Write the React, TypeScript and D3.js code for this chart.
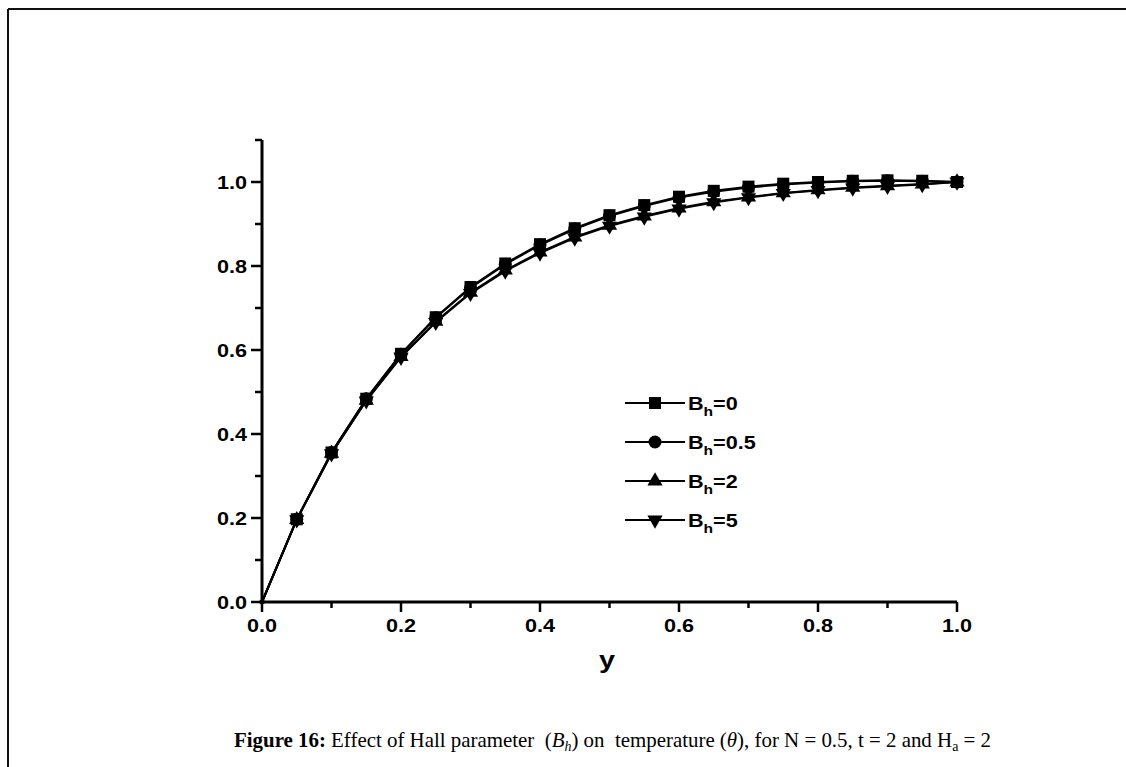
import React from "react";
import * as d3 from "d3";

const xValues = [0, 0.05, 0.1, 0.15, 0.2, 0.25, 0.3, 0.35, 0.4, 0.45, 0.5, 0.55, 0.6, 0.65, 0.7, 0.75, 0.8, 0.85, 0.9, 0.95, 1.0];
const bh0 = [0, 0.197, 0.356, 0.484, 0.591, 0.678, 0.750, 0.806, 0.852, 0.890, 0.921, 0.945, 0.965, 0.979, 0.989, 0.996, 1.000, 1.003, 1.004, 1.003, 1.0];
const bh05 = [0, 0.197, 0.356, 0.484, 0.590, 0.677, 0.748, 0.804, 0.850, 0.888, 0.919, 0.943, 0.963, 0.977, 0.987, 0.994, 0.999, 1.002, 1.003, 1.002, 1.0];
const bh2 = [0, 0.196, 0.354, 0.480, 0.584, 0.668, 0.737, 0.790, 0.833, 0.869, 0.897, 0.919, 0.938, 0.953, 0.964, 0.974, 0.981, 0.987, 0.991, 0.995, 1.0];
const bh5 = [0, 0.196, 0.353, 0.479, 0.583, 0.666, 0.735, 0.788, 0.831, 0.867, 0.895, 0.917, 0.936, 0.951, 0.963, 0.973, 0.980, 0.986, 0.990, 0.994, 1.0];
const seriesLabels = ["0", "0.5", "2", "5"];
const seriesMarkers = ["square", "circle", "triangleUp", "triangleDown"];
const majorTicks = [0, 0.2, 0.4, 0.6, 0.8, 1.0];
const xMinorTicks = [0.1, 0.3, 0.5, 0.7, 0.9];
const yMinorTicks = [0.1, 0.3, 0.5, 0.7, 0.9, 1.1];

const W = 1126;
const H = 767;
const SX = 1.2;
const SANS = "'Liberation Sans', Arial, sans-serif";
const SERIF = "'Liberation Serif', 'Times New Roman', serif";

const x = d3.scaleLinear().domain([0, 1]).range([262, 957]);
const y = d3.scaleLinear().domain([0, 1.1]).range([602, 140]);

function Marker({ type, cx, cy, k = 1 }: { type: string; cx: number; cy: number; k?: number }) {
  if (type === "square") return <rect x={cx - 6 * k} y={cy - 6 * k} width={12 * k} height={12 * k} fill="#000" />;
  if (type === "circle") return <circle cx={cx} cy={cy} r={6.5 * k} fill="#000" />;
  const sym = d3.symbol().type(d3.symbolTriangle).size(100 * k * k)();
  const rot = type === "triangleDown" ? 180 : 0;
  return <path d={sym || ""} transform={`translate(${cx},${cy}) rotate(${rot})`} fill="#000" />;
}

export default function App() {
  const series = [bh0, bh05, bh2, bh5];
  const line = d3
    .line<number>()
    .x((_, i) => x(xValues[i]))
    .y((d) => y(d))
    .curve(d3.curveLinear);
  const fmt = d3.format(".1f");

  return (
    <svg
      width={W}
      height={H}
      style={{ position: "absolute", left: 0, top: 0, background: "#fff" }}
    >
      <rect x={0} y={0} width={W} height={H} fill="#fff" />
      {/* frame */}
      <line x1={8} y1={9} x2={W} y2={9} stroke="#111" strokeWidth={2} />
      <line x1={8} y1={9} x2={8} y2={H} stroke="#111" strokeWidth={2} />

      {/* axes */}
      <line x1={x(0)} y1={y(1.1)} x2={x(0)} y2={y(0)} stroke="#000" strokeWidth={3} />
      <line x1={x(0) - 1.5} y1={y(0)} x2={x(1)} y2={y(0)} stroke="#000" strokeWidth={3} />
      {majorTicks.map((t) => (
        <g key={"xm" + t}>
          <line x1={x(t)} y1={y(0)} x2={x(t)} y2={y(0) + 10} stroke="#000" strokeWidth={2.5} />
          <text
            transform={`translate(${x(t)},${y(0) + 30}) scale(${SX},1)`}
            textAnchor="middle"
            fontFamily={SANS}
            fontWeight="bold"
            fontSize={18}
          >
            {fmt(t)}
          </text>
        </g>
      ))}
      {xMinorTicks.map((t) => (
        <line key={"xn" + t} x1={x(t)} y1={y(0)} x2={x(t)} y2={y(0) + 6} stroke="#000" strokeWidth={2.5} />
      ))}
      {majorTicks.map((t) => (
        <g key={"ym" + t}>
          <line x1={x(0) - 11} y1={y(t)} x2={x(0)} y2={y(t)} stroke="#000" strokeWidth={2.5} />
          <text
            transform={`translate(${x(0) - 15},${y(t) + 6.5}) scale(${SX},1)`}
            textAnchor="end"
            fontFamily={SANS}
            fontWeight="bold"
            fontSize={18}
          >
            {fmt(t)}
          </text>
        </g>
      ))}
      {yMinorTicks.map((t) => (
        <line key={"yn" + t} x1={x(0) - 7} y1={y(t)} x2={x(0)} y2={y(t)} stroke="#000" strokeWidth={2.5} />
      ))}

      {/* axis title */}
      <text
        transform={`translate(607,668) scale(${SX},1)`}
        textAnchor="middle"
        fontFamily={SANS}
        fontWeight="bold"
        fontSize={24}
      >
        y
      </text>

      {/* series */}
      {series.map((s, si) => (
        <g key={"s" + si}>
          <path d={line(s) || ""} fill="none" stroke="#000" strokeWidth={2} />
          {s.map((v, i) => (
            <Marker key={i} type={seriesMarkers[si]} cx={x(xValues[i])} cy={y(v)} k={i === 0 ? 0.35 : 1} />
          ))}
        </g>
      ))}

      {/* legend */}
      {seriesLabels.map((lab, i) => {
        const ly = 403 + i * 39;
        return (
          <g key={"lg" + i}>
            <line x1={625} y1={ly} x2={685} y2={ly} stroke="#000" strokeWidth={2} />
            <Marker type={seriesMarkers[i]} cx={655} cy={ly} />
            <text
              transform={`translate(688,${ly + 6.5}) scale(${SX},1)`}
              fontFamily={SANS}
              fontWeight="bold"
              fontSize={18}
            >
              B
              <tspan fontSize={13} dy={6}>h</tspan>
              <tspan dy={-6}>={lab}</tspan>
            </text>
          </g>
        );
      })}

      {/* caption */}
      <text
        x={234}
        y={747}
        fontFamily={SERIF}
        fontSize={21}
        textLength={757}
        lengthAdjust="spacingAndGlyphs"
        style={{ whiteSpace: "pre" }}
      >
        <tspan fontWeight="bold">Figure 16:</tspan>
        <tspan> Effect of Hall parameter  (</tspan>
        <tspan fontStyle="italic">B</tspan>
        <tspan fontStyle="italic" fontSize={14} dy={4}>h</tspan>
        <tspan dy={-4}>) on  temperature (</tspan>
        <tspan fontStyle="italic">θ</tspan>
        <tspan>), for N = 0.5, t = 2 and H</tspan>
        <tspan fontSize={14} dy={4}>a</tspan>
        <tspan dy={-4}> = 2</tspan>
      </text>
    </svg>
  );
}
